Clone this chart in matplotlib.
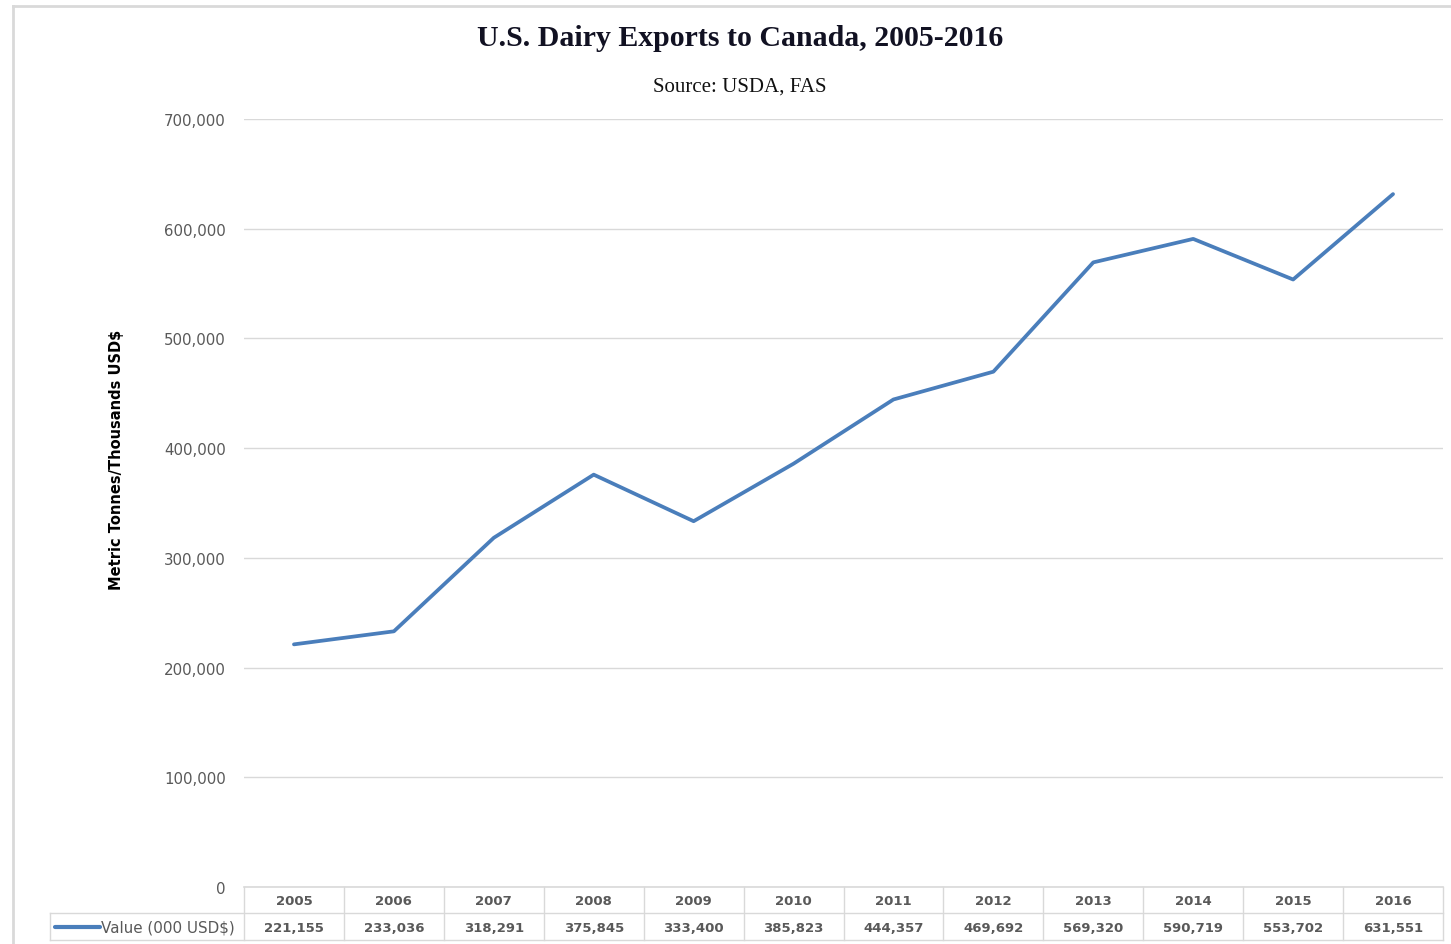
import matplotlib
matplotlib.use("Agg")
import matplotlib.pyplot as plt
from matplotlib.lines import Line2D
from matplotlib.transforms import blended_transform_factory

years = ["2005", "2006", "2007", "2008", "2009", "2010",
         "2011", "2012", "2013", "2014", "2015", "2016"]
values = [221155, 233036, 318291, 375845, 333400, 385823,
          444357, 469692, 569320, 590719, 553702, 631551]
value_labels = ["221,155", "233,036", "318,291", "375,845", "333,400", "385,823",
                "444,357", "469,692", "569,320", "590,719", "553,702", "631,551"]
yticks = [0, 100000, 200000, 300000, 400000, 500000, 600000, 700000]
series_name = "Value (000 USD$)"

W, H = 1451, 945
fig = plt.figure(figsize=(W / 100, H / 100), dpi=100)

def fx(px):
    return px / W

def fy(py):
    return 1 - py / H

grid_c = "#d9d9d9"
line_c = "#4a7ebb"
text_c = "#595959"

# outer chart border (extends past right/bottom edges)
fig.add_artist(Line2D([fx(13), fx(13)], [fy(7), fy(960)], color=grid_c, lw=2.0))
fig.add_artist(Line2D([fx(13), fx(1460)], [fy(7), fy(7)], color=grid_c, lw=2.0))

left, right, top, bottom = 244, 1443, 120, 888
ax = fig.add_axes([fx(left), fy(bottom), fx(right) - fx(left), fy(top) - fy(bottom)])
x = list(range(len(years)))
ax.plot(x, values, color=line_c, lw=2.7, solid_capstyle="round",
        solid_joinstyle="round", zorder=3)
ax.set_xlim(-0.5, len(years) - 0.5)
ax.set_ylim(0, 700000)
ax.set_yticks(yticks)
ax.set_yticklabels([f"{v:,}" for v in yticks], fontsize=10.8, color=text_c,
                   family="DejaVu Sans")
ax.tick_params(axis="y", length=0, pad=13)
ax.set_xticks([])
ax.grid(axis="y", color=grid_c, lw=1.0)
for s in ax.spines.values():
    s.set_visible(False)

# Data table beneath the axes
tr = blended_transform_factory(ax.transData, fig.transFigure)
row1_top, row1_bot, row2_bot = 888, 914, 941
for i in range(len(years) + 1):
    xe = i - 0.5
    ax.add_line(Line2D([xe, xe], [fy(row1_top), fy(row2_bot)], transform=tr,
                       color=grid_c, lw=1.0, clip_on=False))
ax.add_line(Line2D([-0.5, len(years) - 0.5], [fy(row1_top), fy(row1_top)], transform=tr,
                   color=grid_c, lw=1.2, clip_on=False))
fig.add_artist(Line2D([fx(50), fx(right)], [fy(row1_bot), fy(row1_bot)], color=grid_c, lw=1.0))
fig.add_artist(Line2D([fx(50), fx(right)], [fy(row2_bot), fy(row2_bot)], color=grid_c, lw=1.0))
fig.add_artist(Line2D([fx(50), fx(50)], [fy(row1_bot), fy(row2_bot)], color=grid_c, lw=1.0))

for i, (yr, lab) in enumerate(zip(years, value_labels)):
    ax.text(i, fy((row1_top + row1_bot) / 2 + 1), yr, transform=tr, ha="center", va="center",
            fontsize=9.5, color=text_c, fontweight="bold", family="DejaVu Sans")
    ax.text(i, fy((row1_bot + row2_bot) / 2 + 1), lab, transform=tr, ha="center", va="center",
            fontsize=9.5, color=text_c, fontweight="bold", family="DejaVu Sans")

# legend key in table
fig.add_artist(Line2D([fx(55), fx(100)], [fy(928), fy(928)], color=line_c, lw=3.0,
                      solid_capstyle="round"))
fig.text(fx(101), fy(928), series_name, ha="left", va="center", fontsize=10.9,
         color=text_c, family="DejaVu Sans")

# titles
fig.text(fx(740), fy(39), "U.S. Dairy Exports to Canada, 2005-2016", ha="center", va="center",
         fontsize=21.5, fontweight="bold", family="Liberation Serif", color="#111122")
fig.text(fx(740), fy(87), "Source: USDA, FAS", ha="center", va="center",
         fontsize=15, family="Liberation Serif", color="#111111")
fig.text(fx(117), fy(460), "Metric Tonnes/Thousands USD$", ha="center", va="center",
         rotation=90, fontsize=10.5, fontweight="bold", color="black", family="DejaVu Sans")

fig.savefig("out.png", dpi=100)
